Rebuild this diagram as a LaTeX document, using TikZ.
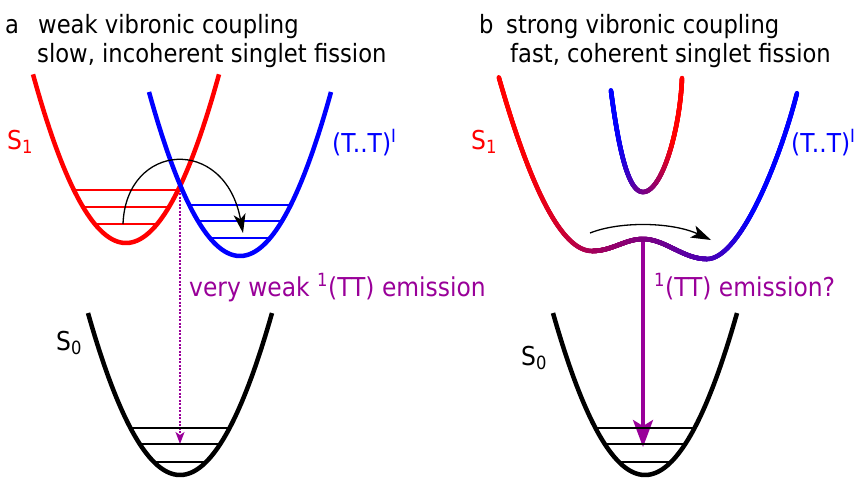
\documentclass[tikz,border=0pt]{standalone}
\usepackage{fontspec}
\setmainfont{DejaVu Sans}[FakeStretch=0.9]
\usetikzlibrary{arrows.meta,decorations.markings}
\definecolor{emc}{RGB}{153,0,153}
\tikzset{
  lab/.style={font=\fontsize{25.2}{30}\selectfont, inner sep=0pt, anchor=base west},
  sublab/.style={lab, font=\fontsize{26}{30}\selectfont},
  well/.style={line width=4.5pt},
  lvl/.style={line width=1.8pt},
  hop/.style={line width=1.3pt, black},
  gseg/.style={postaction={decorate}, decoration={markings,
     mark=between positions 0 and 1 step 0.005 with {%
       \pgfmathsetmacro\gfr{(\pgfkeysvalueof{/pgf/decoration/mark info/sequence number}-1)*0.005}%
       \pgfmathsetmacro\gcc{max(0,min(100,#1))}%
       \draw[line width=4.5pt, line cap=round, red!\gcc!blue] (-0.7pt,0) -- (0.7pt,0);}}}
}
\begin{document}
\begin{tikzpicture}[x=1pt,y=-1pt]
\useasboundingbox (0,0) rectangle (861,477);

% titles
\node[lab] (ta) at (5,33) {a};
\node[lab] (ta1) at (38,33) {weak vibronic coupling};
\node[lab] (ta2) at (37,62) {slow, incoherent singlet fission};
\node[lab] (tb) at (479,33) {b};
\node[lab] (tb1) at (506,33) {strong vibronic coupling};
\node[lab] (tb2) at (510,62) {fast, coherent singlet fission};

% ---------- panel a ----------
\coordinate (xa) at (180,186);
\coordinate (ea) at (180,444);
\draw[emc, line width=1.3pt, dash pattern=on 2pt off 1.5pt,
      -{Stealth[length=12pt,width=9pt,inset=3pt]}] (xa) -- (ea);

\draw[well, red] plot[domain=33:219, samples=80] (\x, {243-0.0195*(\x-126)^2});
\draw[lvl, red] (74,190) -- (178,190);
\draw[lvl, red] (83,207) -- (169,207);
\draw[lvl, red] (95,224) -- (157,224);

\draw[well, blue] plot[domain=149:331, samples=80] (\x, {256-0.0198*(\x-240)^2});
\draw[lvl, blue] (189,205) -- (291,205);
\draw[lvl, blue] (198,221) -- (282,221);
\draw[lvl, blue] (210,238) -- (270,238);

\coordinate (a0) at (123,224);
\coordinate (a1) at (243,233);
\draw[hop, -{Stealth[length=19pt,width=12pt,inset=5pt]}] (a0) .. controls (126,142) and (225,135) .. (a1);

\draw[well] plot[domain=88:272, samples=80] (\x, {475-0.01914*(\x-180)^2});
\draw[lvl] (130,428) -- (230,428);
\draw[lvl] (140,444) -- (220,444);
\draw[lvl] (154,462) -- (206,462);

\node[sublab, red] (s1a) at (7,149) {S\textsubscript{1}};
\node[sublab, blue] (tta) at (332,152) {(T..T)\textsuperscript{I}};
\node[sublab] (s0a) at (56,350) {S\textsubscript{0}};
\node[sublab, emc] (wk) at (189,296) {very weak \textsuperscript{1}(TT) emission};

% ---------- panel b ----------
\coordinate (bb) at (643,240);
\coordinate (eb) at (643,447);
\draw[emc, line width=3.5pt, -{Stealth[length=27pt,width=20pt,inset=6pt]}] (bb) -- (eb);

\path[gseg={100-35*\gfr^3}] (499,78) .. controls (526,172) and (558,251) .. (592,251);
\path[gseg={65-15*\gfr}] (592,251) .. controls (612,251) and (625,239) .. (643,239);
\path[gseg={50-20*\gfr}] (643,239) .. controls (665,239) and (683,259) .. (707,259);
\path[gseg={30-86*\gfr}] (707,259) .. controls (740,259) and (780,160) .. (797,93);
\path[gseg={45*\gfr^3}] (611,91) .. controls (620,160) and (630,192) .. (643,192);
\path[gseg={45+110*\gfr}] (643,192) .. controls (662,192) and (680,130) .. (682,78);

\coordinate (b0) at (590,233);
\coordinate (b1) at (711,240);
\draw[hop, -{Stealth[length=20pt,width=13pt,inset=5pt]}] (b0) .. controls (620,221) and (672,222) .. (b1);

\draw[well] plot[domain=553:737, samples=80] (\x, {475-0.01914*(\x-645)^2});
\draw[lvl] (595,428) -- (695,428);
\draw[lvl] (605,444) -- (685,444);
\draw[lvl] (619,462) -- (671,462);

\node[sublab, red] (s1b) at (471,149) {S\textsubscript{1}};
\node[sublab, blue] (ttb) at (791,152) {(T..T)\textsuperscript{I}};
\node[sublab] (s0b) at (521,365) {S\textsubscript{0}};
\node[sublab, emc] (emb) at (654,296) {\textsuperscript{1}(TT) emission?};
\end{tikzpicture}
\end{document}
